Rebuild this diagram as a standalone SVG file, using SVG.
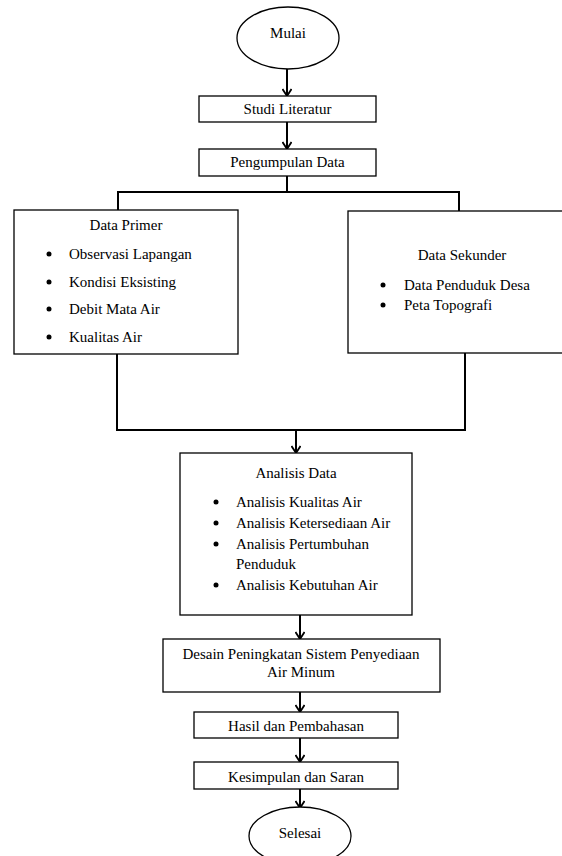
<svg xmlns="http://www.w3.org/2000/svg" width="562" height="856" viewBox="0 0 562 856">
<defs>
<style>
.box{fill:#fff;stroke:#000;stroke-width:1.3}
.t{font-family:"Liberation Serif","Times New Roman",serif;font-size:15px;fill:#000}
.c{text-anchor:middle}
.ln{fill:none;stroke:#000;stroke-width:2}
.b{fill:#000}
</style>
<marker id="ah" markerUnits="userSpaceOnUse" viewBox="0 0 10 10" markerWidth="10" markerHeight="10" refX="9" refY="5" orient="auto">
<path d="M2,0.5 L9,5 L2,9.5" fill="none" stroke="#000" stroke-width="1.8"/>
</marker>
</defs>
<rect width="562" height="856" fill="#fff"/>
<g id="connectors">
<path class="ln" d="M287,69 V96" marker-end="url(#ah)"/>
<path class="ln" d="M287,122 V149" marker-end="url(#ah)"/>
<path class="ln" d="M287,176 V192 M118,210 V192 H459 V211"/>
<path class="ln" d="M117,354 V430 H465 V353"/>
<path class="ln" d="M296,430 V453" marker-end="url(#ah)"/>
<path class="ln" d="M300,615 V639" marker-end="url(#ah)"/>
<path class="ln" d="M300,692 V712" marker-end="url(#ah)"/>
<path class="ln" d="M300,738 V762" marker-end="url(#ah)"/>
<path class="ln" d="M300,789 V808" marker-end="url(#ah)"/>
</g>
<g id="mulai">
<ellipse class="box" cx="288" cy="38" rx="51" ry="31"/>
<text class="t c" x="288" y="38">Mulai</text>
</g>
<g id="studi">
<rect class="box" x="199" y="96" width="177" height="26"/>
<text class="t c" x="287.5" y="114">Studi Literatur</text>
</g>
<g id="pengumpulan">
<rect class="box" x="199" y="149" width="177" height="27"/>
<text class="t c" x="287.5" y="167">Pengumpulan Data</text>
</g>
<g id="primer">
<rect class="box" x="14" y="210" width="224" height="144"/>
<text class="t c" x="126" y="230">Data Primer</text>
<circle class="b" cx="49" cy="254" r="2.5"/>
<text class="t" x="69" y="259">Observasi Lapangan</text>
<circle class="b" cx="49" cy="282" r="2.5"/>
<text class="t" x="69" y="287">Kondisi Eksisting</text>
<circle class="b" cx="49" cy="309" r="2.5"/>
<text class="t" x="69" y="314">Debit Mata Air</text>
<circle class="b" cx="49" cy="337" r="2.5"/>
<text class="t" x="69" y="342">Kualitas Air</text>
</g>
<g id="sekunder">
<rect class="box" x="348" y="211" width="216" height="142"/>
<text class="t c" x="462" y="260">Data Sekunder</text>
<circle class="b" cx="383" cy="285" r="2.5"/>
<text class="t" x="404" y="290">Data Penduduk Desa</text>
<circle class="b" cx="383" cy="305" r="2.5"/>
<text class="t" x="404" y="310">Peta Topografi</text>
</g>
<g id="analisis">
<rect class="box" x="180" y="453" width="232" height="162"/>
<text class="t c" x="296" y="478">Analisis Data</text>
<circle class="b" cx="216" cy="502" r="2.5"/>
<text class="t" x="236" y="507">Analisis Kualitas Air</text>
<circle class="b" cx="216" cy="523" r="2.5"/>
<text class="t" x="236" y="528">Analisis Ketersediaan Air</text>
<circle class="b" cx="216" cy="544" r="2.5"/>
<text class="t" x="236" y="549">Analisis Pertumbuhan</text>
<text class="t" x="236" y="569">Penduduk</text>
<circle class="b" cx="216" cy="585" r="2.5"/>
<text class="t" x="236" y="590">Analisis Kebutuhan Air</text>
</g>
<g id="desain">
<rect class="box" x="163" y="639" width="277" height="53"/>
<text class="t c" x="301" y="659">Desain Peningkatan Sistem Penyediaan</text>
<text class="t c" x="301" y="677">Air Minum</text>
</g>
<g id="hasil">
<rect class="box" x="194" y="712" width="204" height="26"/>
<text class="t c" x="296" y="731">Hasil dan Pembahasan</text>
</g>
<g id="kesimpulan">
<rect class="box" x="194" y="762" width="204" height="27"/>
<text class="t c" x="296" y="782">Kesimpulan dan Saran</text>
</g>
<g id="selesai">
<ellipse class="box" cx="300" cy="836" rx="51" ry="29"/>
<text class="t c" x="300" y="838">Selesai</text>
</g>
</svg>
